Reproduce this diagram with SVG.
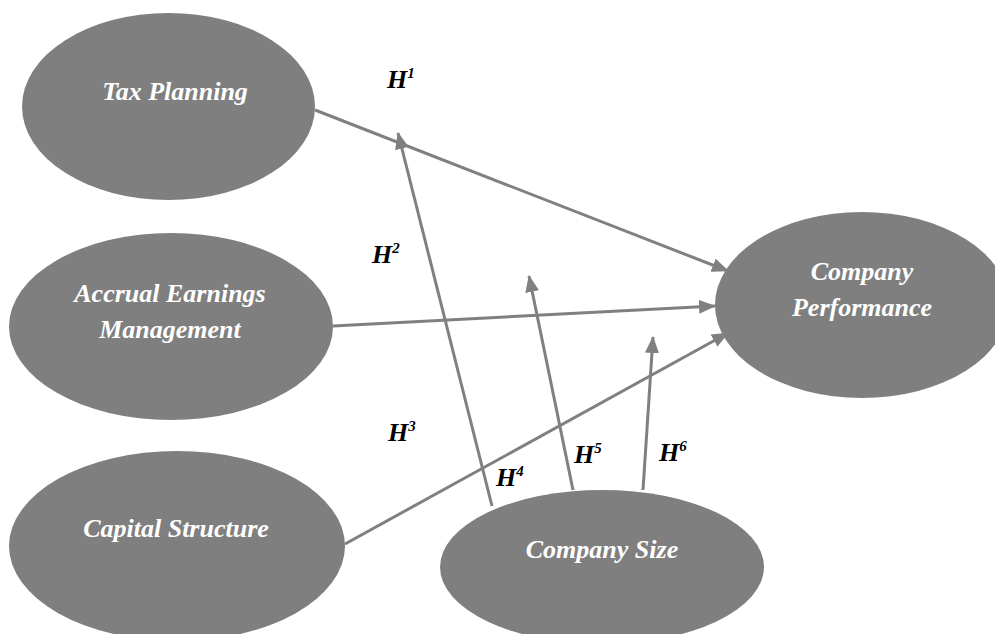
<svg xmlns="http://www.w3.org/2000/svg" width="995" height="634" viewBox="0 0 995 634">
<style>
.node ellipse{fill:#7f7f7f;}
.lbl{font-family:"Liberation Serif","Times New Roman",serif;font-style:italic;font-weight:bold;font-size:26px;fill:#ffffff;text-anchor:middle;}
.h{font-family:"Liberation Serif","Times New Roman",serif;font-style:italic;font-weight:bold;font-size:26px;fill:#000000;}
.h tspan.s{font-size:15px;}
.conn line{stroke:#808080;stroke-width:3;marker-end:url(#arr);}
</style>
<defs>
<marker id="arr" markerUnits="userSpaceOnUse" markerWidth="18" markerHeight="14" refX="16" refY="7" orient="auto">
<path d="M0,0 L17,7 L0,14 Z" fill="#808080"/>
</marker>
</defs>
<rect width="995" height="634" fill="#ffffff"/>
<g id="tax-planning" class="node">
<ellipse cx="168.5" cy="106.5" rx="146.5" ry="93.5"/>
<text class="lbl" x="175" y="100">Tax Planning</text>
</g>
<g id="accrual-earnings-management" class="node">
<ellipse cx="171" cy="326.5" rx="162" ry="93.5"/>
<text class="lbl" x="170" y="302">Accrual Earnings</text>
<text class="lbl" x="170" y="338">Management</text>
</g>
<g id="capital-structure" class="node">
<ellipse cx="177" cy="546" rx="168" ry="95"/>
<text class="lbl" x="176" y="537">Capital Structure</text>
</g>
<g id="company-performance" class="node">
<ellipse cx="862" cy="305" rx="147" ry="93"/>
<text class="lbl" x="862" y="280">Company</text>
<text class="lbl" x="862" y="316">Performance</text>
</g>
<g id="company-size" class="node">
<ellipse cx="602" cy="567" rx="162" ry="77"/>
<text class="lbl" x="602" y="558">Company Size</text>
</g>
<g id="connectors" class="conn">
<line x1="315" y1="110" x2="728" y2="271"/>
<line x1="333" y1="326" x2="715" y2="306"/>
<line x1="345" y1="544" x2="728" y2="333"/>
<line x1="492" y1="506" x2="398" y2="133"/>
<line x1="573" y1="490" x2="529" y2="276"/>
<line x1="643" y1="490" x2="653" y2="337"/>
</g>
<g id="labels">
<text class="h" x="387" y="88">H<tspan class="s" dy="-10">1</tspan></text>
<text class="h" x="372" y="263">H<tspan class="s" dy="-10">2</tspan></text>
<text class="h" x="388" y="441">H<tspan class="s" dy="-10">3</tspan></text>
<text class="h" x="496" y="486">H<tspan class="s" dy="-10">4</tspan></text>
<text class="h" x="574" y="463">H<tspan class="s" dy="-10">5</tspan></text>
<text class="h" x="659" y="461">H<tspan class="s" dy="-10">6</tspan></text>
</g>
</svg>
